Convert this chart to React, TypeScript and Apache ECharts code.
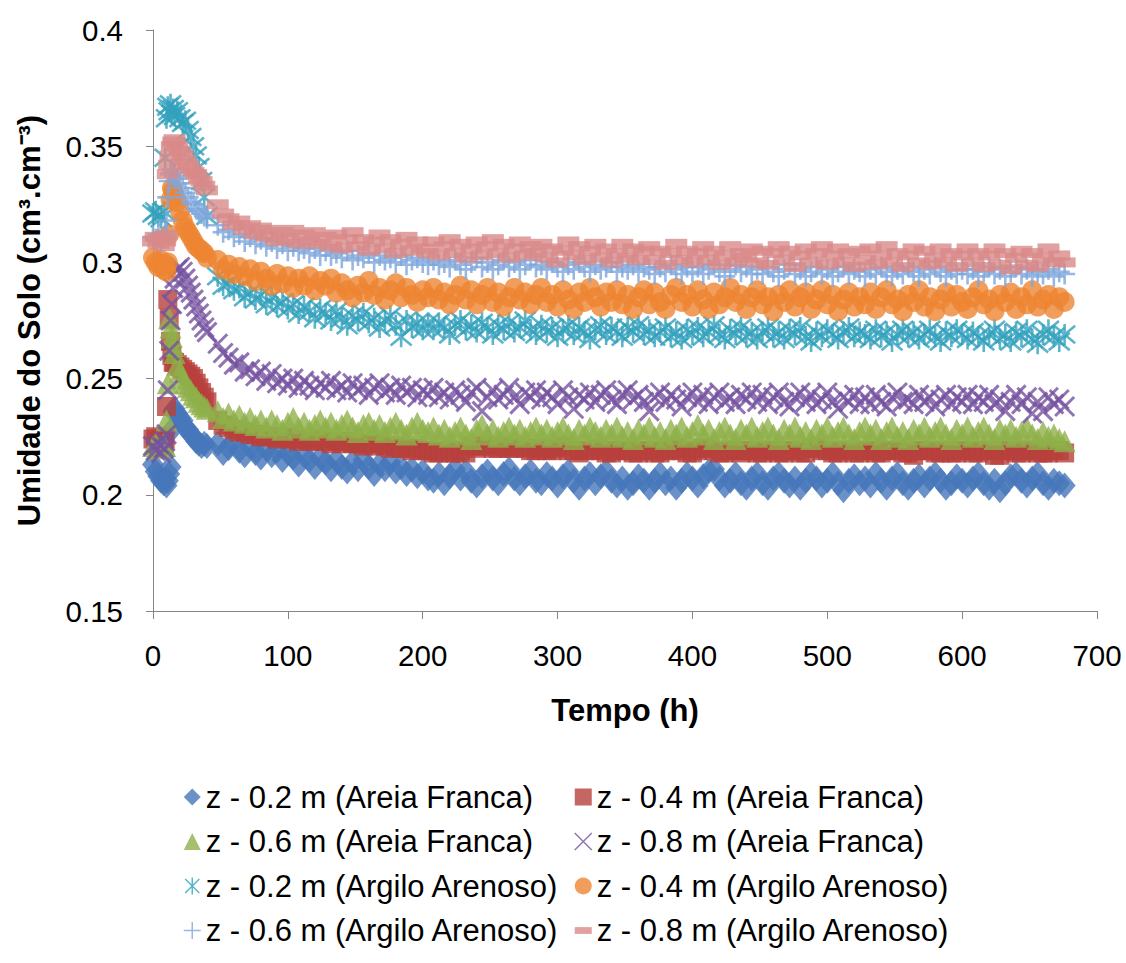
import React, { useEffect, useRef } from "react";
import * as echarts from "echarts";

const FONT = "'Liberation Sans', Arial, sans-serif";

// Tempo (h)
const time = [
  0, 2, 4, 6, 8, 9, 10, 11, 12, 13, 14, 15, 16, 18, 20, 22, 24, 26, 28, 30, 32, 34, 36, 38, 40,
  48, 52, 56, 60, 64, 68, 72, 76, 80, 84, 88, 92, 96, 100, 104, 108, 112, 116, 120, 124,
  128, 132, 136, 140, 144, 148, 152, 156, 160, 164, 168, 172, 176, 180, 184, 188, 192, 196, 200, 204,
  208, 212, 216, 220, 224, 228, 232, 236, 240, 244, 248, 252, 256, 260, 264, 268, 272, 276, 280, 284,
  288, 292, 296, 300, 304, 308, 312, 316, 320, 324, 328, 332, 336, 340, 344, 348, 352, 356, 360, 364,
  368, 372, 376, 380, 384, 388, 392, 396, 400, 404, 408, 412, 416, 420, 424, 428, 432, 436, 440, 444,
  448, 452, 456, 460, 464, 468, 472, 476, 480, 484, 488, 492, 496, 500, 504, 508, 512, 516, 520, 524,
  528, 532, 536, 540, 544, 548, 552, 556, 560, 564, 568, 572, 576, 580, 584, 588, 592, 596, 600, 604,
  608, 612, 616, 620, 624, 628, 632, 636, 640, 644, 648, 652, 656, 660, 664, 668, 672, 676,
];

// z - 0.2 m (Areia Franca)
const af02 = [
  0.213, 0.210, 0.208, 0.206, 0.205, 0.207, 0.204, 0.206, 0.209, 0.212, 0.228, 0.236, 0.237, 0.235, 0.233, 0.232, 0.229, 0.228, 0.226, 0.225, 0.223, 0.222, 0.221, 0.222, 0.221,
  0.222, 0.218, 0.220, 0.223, 0.219, 0.217, 0.221, 0.218, 0.216, 0.220, 0.217, 0.219, 0.215, 0.218, 0.216, 0.213, 0.217, 0.215, 0.212, 0.216,
  0.214, 0.211, 0.215, 0.212, 0.210, 0.214, 0.211, 0.215, 0.212, 0.209, 0.213, 0.211, 0.214, 0.210, 0.212, 0.209, 0.211, 0.208, 0.210, 0.207,
  0.206, 0.209, 0.205, 0.208, 0.211, 0.207, 0.210, 0.206, 0.204, 0.208, 0.210, 0.207, 0.205, 0.209, 0.211, 0.207, 0.205, 0.208, 0.210, 0.206,
  0.205, 0.209, 0.207, 0.204, 0.208, 0.210, 0.206, 0.203, 0.207, 0.209, 0.205, 0.208, 0.210, 0.206, 0.204, 0.207, 0.203, 0.205, 0.208, 0.206,
  0.203, 0.206, 0.209, 0.205, 0.207, 0.203, 0.206, 0.209, 0.207, 0.204, 0.208, 0.210, 0.211, 0.207, 0.204, 0.206, 0.209, 0.205, 0.203, 0.207,
  0.209, 0.205, 0.203, 0.207, 0.209, 0.206, 0.204, 0.207, 0.203, 0.206, 0.209, 0.207, 0.204, 0.206, 0.209, 0.205, 0.202, 0.206, 0.208, 0.205,
  0.207, 0.204, 0.209, 0.206, 0.203, 0.207, 0.209, 0.205, 0.203, 0.206, 0.208, 0.204, 0.207, 0.209, 0.206, 0.203, 0.205, 0.208, 0.206, 0.204,
  0.207, 0.209, 0.205, 0.203, 0.206, 0.202, 0.205, 0.208, 0.209, 0.206, 0.204, 0.207, 0.209, 0.205, 0.203, 0.206, 0.205, 0.204,
];

// z - 0.4 m (Areia Franca)
const af04 = [
  0.224, 0.225, 0.223, 0.224, 0.222, 0.224, 0.238, 0.284, 0.276, 0.266, 0.260, 0.257, 0.257, 0.256, 0.255, 0.254, 0.253, 0.252, 0.251, 0.250, 0.248, 0.246, 0.244, 0.242, 0.240,
  0.232, 0.230, 0.229, 0.228, 0.227, 0.227, 0.226, 0.226, 0.225, 0.225, 0.225, 0.224, 0.225, 0.224, 0.224, 0.223, 0.224, 0.223, 0.223, 0.224,
  0.223, 0.222, 0.223, 0.222, 0.223, 0.222, 0.222, 0.221, 0.222, 0.221, 0.222, 0.221, 0.220, 0.221, 0.220, 0.220, 0.219, 0.220, 0.219, 0.219,
  0.218, 0.218, 0.219, 0.218, 0.218, 0.219, 0.218, 0.221, 0.220, 0.221, 0.221, 0.220, 0.220, 0.221, 0.220, 0.220, 0.221, 0.220, 0.219, 0.219,
  0.220, 0.219, 0.219, 0.220, 0.221, 0.219, 0.219, 0.218, 0.219, 0.219, 0.220, 0.219, 0.218, 0.218, 0.219, 0.219, 0.219, 0.218, 0.218, 0.219,
  0.219, 0.218, 0.218, 0.219, 0.219, 0.220, 0.219, 0.218, 0.218, 0.219, 0.220, 0.220, 0.219, 0.218, 0.218, 0.219, 0.219, 0.218, 0.219, 0.219,
  0.218, 0.218, 0.219, 0.219, 0.218, 0.218, 0.219, 0.219, 0.218, 0.218, 0.220, 0.220, 0.219, 0.219, 0.218, 0.218, 0.219, 0.219, 0.218, 0.218,
  0.219, 0.219, 0.218, 0.218, 0.219, 0.219, 0.219, 0.218, 0.218, 0.217, 0.219, 0.219, 0.219, 0.218, 0.218, 0.219, 0.218, 0.218, 0.219, 0.219,
  0.218, 0.218, 0.219, 0.219, 0.217, 0.217, 0.219, 0.219, 0.218, 0.218, 0.219, 0.219, 0.218, 0.218, 0.218, 0.219, 0.219, 0.218,
];

// z - 0.6 m (Areia Franca)
const af06 = [
  0.221, 0.222, 0.220, 0.221, 0.222, 0.221, 0.232, 0.248, 0.276, 0.272, 0.268, 0.264, 0.261, 0.256, 0.253, 0.250, 0.248, 0.2465, 0.245, 0.243, 0.242, 0.240, 0.239, 0.238, 0.237,
  0.236, 0.233, 0.235, 0.232, 0.234, 0.231, 0.233, 0.230, 0.232, 0.229, 0.232, 0.230, 0.228, 0.231, 0.233, 0.229, 0.231, 0.228, 0.230, 0.232,
  0.229, 0.231, 0.228, 0.230, 0.232, 0.229, 0.227, 0.230, 0.231, 0.228, 0.230, 0.227, 0.229, 0.231, 0.228, 0.226, 0.229, 0.231, 0.228, 0.227,
  0.229, 0.226, 0.228, 0.225, 0.227, 0.229, 0.226, 0.224, 0.228, 0.230, 0.226, 0.228, 0.225, 0.227, 0.229, 0.226, 0.228, 0.225, 0.227, 0.229,
  0.226, 0.228, 0.225, 0.227, 0.229, 0.226, 0.224, 0.228, 0.226, 0.229, 0.227, 0.225, 0.228, 0.226, 0.229, 0.225, 0.227, 0.224, 0.228, 0.226,
  0.229, 0.225, 0.227, 0.224, 0.228, 0.226, 0.229, 0.225, 0.227, 0.230, 0.226, 0.228, 0.224, 0.227, 0.229, 0.226, 0.224, 0.228, 0.226, 0.229,
  0.225, 0.227, 0.229, 0.226, 0.224, 0.228, 0.226, 0.229, 0.225, 0.227, 0.224, 0.228, 0.226, 0.229, 0.225, 0.227, 0.229, 0.226, 0.224, 0.227,
  0.229, 0.226, 0.228, 0.224, 0.227, 0.229, 0.225, 0.227, 0.224, 0.228, 0.226, 0.229, 0.225, 0.227, 0.229, 0.226, 0.224, 0.228, 0.226, 0.229,
  0.225, 0.227, 0.229, 0.226, 0.224, 0.228, 0.226, 0.228, 0.225, 0.227, 0.229, 0.226, 0.224, 0.227, 0.225, 0.226, 0.224, 0.223,
];

// z - 0.8 m (Areia Franca)
const af08 = [
  0.221, 0.219, 0.222, 0.218, 0.220, 0.223, 0.226, 0.245, 0.262, 0.275, 0.282, 0.289, 0.293, 0.297, 0.298, 0.296, 0.293, 0.290, 0.287, 0.284, 0.281, 0.278, 0.275, 0.272, 0.270,
  0.265, 0.261, 0.259, 0.256, 0.257, 0.253, 0.254, 0.251, 0.253, 0.249, 0.252, 0.248, 0.250, 0.247, 0.250, 0.246, 0.249, 0.247, 0.245, 0.248,
  0.246, 0.249, 0.245, 0.247, 0.244, 0.248, 0.245, 0.247, 0.243, 0.246, 0.248, 0.244, 0.246, 0.243, 0.247, 0.244, 0.246, 0.242, 0.245, 0.243,
  0.246, 0.242, 0.244, 0.241, 0.245, 0.243, 0.240, 0.244, 0.246, 0.236, 0.242, 0.245, 0.241, 0.243, 0.246, 0.242, 0.239, 0.244, 0.242, 0.245,
  0.241, 0.244, 0.242, 0.239, 0.245, 0.242, 0.237, 0.243, 0.241, 0.244, 0.240, 0.243, 0.245, 0.241, 0.239, 0.243, 0.245, 0.241, 0.243, 0.240,
  0.236, 0.242, 0.244, 0.240, 0.243, 0.241, 0.238, 0.242, 0.244, 0.240, 0.243, 0.239, 0.242, 0.244, 0.240, 0.242, 0.239, 0.243, 0.241, 0.244,
  0.240, 0.243, 0.239, 0.242, 0.244, 0.240, 0.238, 0.242, 0.244, 0.240, 0.243, 0.239, 0.241, 0.244, 0.240, 0.237, 0.242, 0.240, 0.243, 0.239,
  0.242, 0.239, 0.243, 0.240, 0.238, 0.242, 0.244, 0.240, 0.241, 0.239, 0.243, 0.240, 0.242, 0.238, 0.241, 0.243, 0.239, 0.242, 0.240, 0.243,
  0.239, 0.242, 0.240, 0.243, 0.239, 0.241, 0.236, 0.240, 0.243, 0.239, 0.242, 0.235, 0.240, 0.236, 0.242, 0.239, 0.241, 0.238,
];

// z - 0.2 m (Argilo Arenoso)
const aa02 = [
  0.321, 0.322, 0.320, 0.319, 0.322, 0.345, 0.362, 0.367, 0.365, 0.368, 0.364, 0.366, 0.363, 0.365, 0.362, 0.360, 0.361, 0.357, 0.354, 0.350, 0.346, 0.341, 0.335, 0.328, 0.320,
  0.294, 0.290, 0.291, 0.288, 0.289, 0.285, 0.287, 0.284, 0.286, 0.282, 0.285, 0.281, 0.283, 0.280, 0.282, 0.278, 0.281, 0.279, 0.276, 0.280,
  0.278, 0.275, 0.279, 0.276, 0.273, 0.277, 0.275, 0.278, 0.274, 0.276, 0.272, 0.275, 0.277, 0.273, 0.268, 0.275, 0.272, 0.274, 0.271, 0.274,
  0.271, 0.274, 0.272, 0.269, 0.273, 0.275, 0.271, 0.273, 0.270, 0.274, 0.272, 0.269, 0.273, 0.271, 0.274, 0.270, 0.272, 0.275, 0.271, 0.269,
  0.273, 0.270, 0.272, 0.268, 0.271, 0.273, 0.269, 0.272, 0.270, 0.267, 0.271, 0.273, 0.269, 0.272, 0.270, 0.268, 0.272, 0.270, 0.273, 0.269,
  0.271, 0.268, 0.270, 0.272, 0.268, 0.270, 0.267, 0.271, 0.269, 0.272, 0.268, 0.270, 0.273, 0.269, 0.267, 0.271, 0.269, 0.272, 0.268, 0.270,
  0.267, 0.270, 0.272, 0.268, 0.270, 0.267, 0.271, 0.269, 0.272, 0.268, 0.266, 0.270, 0.268, 0.271, 0.269, 0.267, 0.270, 0.272, 0.268, 0.270,
  0.269, 0.267, 0.271, 0.268, 0.270, 0.266, 0.269, 0.271, 0.268, 0.270, 0.267, 0.269, 0.271, 0.268, 0.266, 0.270, 0.268, 0.271, 0.269, 0.267,
  0.270, 0.268, 0.266, 0.269, 0.271, 0.267, 0.269, 0.266, 0.270, 0.268, 0.271, 0.267, 0.265, 0.269, 0.271, 0.268, 0.266, 0.269,
];

// z - 0.4 m (Argilo Arenoso)
const aa04 = [
  0.302, 0.300, 0.298, 0.301, 0.297, 0.299, 0.296, 0.300, 0.312, 0.327, 0.332, 0.331, 0.329, 0.326, 0.322, 0.318, 0.315, 0.313, 0.311, 0.309, 0.307, 0.306, 0.305, 0.304, 0.302,
  0.301, 0.297, 0.299, 0.295, 0.298, 0.294, 0.297, 0.292, 0.296, 0.293, 0.290, 0.295, 0.291, 0.294, 0.289, 0.293, 0.290, 0.294, 0.288, 0.292,
  0.290, 0.293, 0.287, 0.291, 0.288, 0.285, 0.290, 0.287, 0.292, 0.286, 0.289, 0.284, 0.288, 0.291, 0.285, 0.289, 0.286, 0.283, 0.288, 0.285,
  0.289, 0.284, 0.287, 0.282, 0.286, 0.290, 0.284, 0.288, 0.282, 0.286, 0.289, 0.283, 0.287, 0.281, 0.285, 0.289, 0.284, 0.287, 0.282, 0.286,
  0.289, 0.283, 0.286, 0.281, 0.288, 0.284, 0.280, 0.287, 0.283, 0.289, 0.285, 0.281, 0.287, 0.283, 0.288, 0.282, 0.286, 0.280, 0.285, 0.288,
  0.282, 0.287, 0.283, 0.280, 0.286, 0.289, 0.283, 0.286, 0.281, 0.288, 0.284, 0.280, 0.287, 0.282, 0.285, 0.289, 0.283, 0.286, 0.280, 0.285,
  0.288, 0.282, 0.285, 0.279, 0.286, 0.283, 0.288, 0.281, 0.285, 0.287, 0.280, 0.284, 0.288, 0.282, 0.286, 0.279, 0.284, 0.287, 0.281, 0.285,
  0.282, 0.287, 0.280, 0.285, 0.288, 0.282, 0.284, 0.279, 0.286, 0.283, 0.288, 0.281, 0.285, 0.279, 0.284, 0.287, 0.281, 0.286, 0.283, 0.280,
  0.285, 0.288, 0.282, 0.284, 0.279, 0.286, 0.283, 0.287, 0.280, 0.285, 0.282, 0.288, 0.281, 0.284, 0.286, 0.280, 0.285, 0.283,
];

// z - 0.6 m (Argilo Arenoso)
const aa06 = [
  0.311, 0.310, 0.312, 0.309, 0.311, 0.313, 0.318, 0.328, 0.335, 0.338, 0.340, 0.339, 0.337, 0.336, 0.334, 0.332, 0.330, 0.328, 0.326, 0.325, 0.323, 0.322, 0.321, 0.320, 0.319,
  0.316, 0.313, 0.314, 0.311, 0.312, 0.309, 0.311, 0.308, 0.310, 0.307, 0.309, 0.306, 0.308, 0.305, 0.307, 0.305, 0.306, 0.304, 0.306, 0.303,
  0.305, 0.303, 0.304, 0.302, 0.305, 0.301, 0.303, 0.302, 0.304, 0.300, 0.303, 0.301, 0.302, 0.300, 0.303, 0.299, 0.301, 0.302, 0.300, 0.299,
  0.301, 0.299, 0.300, 0.298, 0.301, 0.299, 0.297, 0.300, 0.302, 0.298, 0.300, 0.297, 0.299, 0.301, 0.298, 0.300, 0.297, 0.299, 0.301, 0.298,
  0.299, 0.297, 0.300, 0.298, 0.296, 0.299, 0.297, 0.300, 0.298, 0.296, 0.299, 0.297, 0.298, 0.300, 0.296, 0.298, 0.297, 0.299, 0.296, 0.298,
  0.297, 0.295, 0.298, 0.296, 0.299, 0.297, 0.295, 0.298, 0.296, 0.298, 0.295, 0.297, 0.299, 0.296, 0.294, 0.297, 0.299, 0.296, 0.298, 0.295,
  0.297, 0.295, 0.298, 0.296, 0.294, 0.297, 0.299, 0.295, 0.297, 0.294, 0.296, 0.298, 0.295, 0.297, 0.294, 0.296, 0.298, 0.295, 0.297, 0.296,
  0.294, 0.297, 0.295, 0.298, 0.296, 0.294, 0.297, 0.295, 0.298, 0.296, 0.294, 0.297, 0.295, 0.298, 0.296, 0.294, 0.297, 0.295, 0.297, 0.295,
  0.297, 0.294, 0.296, 0.298, 0.295, 0.297, 0.294, 0.296, 0.298, 0.295, 0.297, 0.294, 0.296, 0.295, 0.297, 0.294, 0.296, 0.295,
];

// z - 0.8 m (Argilo Arenoso)
const aa08 = [
  0.309, 0.311, 0.308, 0.310, 0.307, 0.309, 0.312, 0.338, 0.342, 0.346, 0.350, 0.352, 0.353, 0.350, 0.348, 0.346, 0.344, 0.342, 0.340, 0.339, 0.338, 0.336, 0.335, 0.333, 0.331,
  0.325, 0.321, 0.319, 0.316, 0.318, 0.314, 0.316, 0.312, 0.315, 0.311, 0.314, 0.309, 0.313, 0.310, 0.314, 0.308, 0.312, 0.309, 0.313, 0.308,
  0.311, 0.307, 0.312, 0.306, 0.310, 0.313, 0.307, 0.310, 0.305, 0.309, 0.312, 0.306, 0.310, 0.304, 0.308, 0.311, 0.305, 0.309, 0.306, 0.304,
  0.309, 0.303, 0.307, 0.310, 0.304, 0.308, 0.302, 0.306, 0.309, 0.303, 0.307, 0.310, 0.304, 0.308, 0.302, 0.306, 0.309, 0.303, 0.307, 0.304,
  0.308, 0.302, 0.306, 0.300, 0.305, 0.309, 0.303, 0.307, 0.301, 0.305, 0.308, 0.302, 0.306, 0.300, 0.304, 0.308, 0.302, 0.306, 0.301, 0.305,
  0.307, 0.301, 0.305, 0.299, 0.304, 0.308, 0.301, 0.305, 0.300, 0.304, 0.307, 0.301, 0.305, 0.299, 0.303, 0.307, 0.300, 0.304, 0.302, 0.306,
  0.300, 0.305, 0.299, 0.304, 0.307, 0.301, 0.305, 0.298, 0.303, 0.306, 0.300, 0.304, 0.307, 0.299, 0.303, 0.306, 0.300, 0.304, 0.298, 0.305,
  0.301, 0.306, 0.299, 0.303, 0.307, 0.300, 0.304, 0.298, 0.303, 0.306, 0.300, 0.305, 0.299, 0.302, 0.306, 0.300, 0.304, 0.298, 0.303, 0.306,
  0.300, 0.304, 0.298, 0.303, 0.306, 0.299, 0.304, 0.297, 0.302, 0.305, 0.299, 0.304, 0.298, 0.302, 0.306, 0.300, 0.303, 0.300,
];

const seriesNames = [
  "z - 0.2 m (Areia Franca)",
  "z - 0.4 m (Areia Franca)",
  "z - 0.6 m (Areia Franca)",
  "z - 0.8 m (Areia Franca)",
  "z - 0.2 m (Argilo Arenoso)",
  "z - 0.4 m (Argilo Arenoso)",
  "z - 0.6 m (Argilo Arenoso)",
  "z - 0.8 m (Argilo Arenoso)",
];

const seriesValues = [af02, af04, af06, af08, aa02, aa04, aa06, aa08];

const colors = [
  "#4677BA",
  "#B8403C",
  "#8EB04A",
  "#7552A0",
  "#33A1BD",
  "#EE8432",
  "#7EA6DC",
  "#D88A88",
];

const X_PATH = "path://M0,0L10,10M10,0L0,10";
const AST_PATH = "path://M0,0L10,10M10,0L0,10M5,-1L5,11";
const PLUS_PATH = "path://M5,0L5,10M0,5L10,5";
const DASH_PATH = "path://M0,0L10,0L10,4L0,4Z";

const markers: any[] = [
  { symbol: "diamond", size: [22, 26], stroke: false },
  { symbol: "rect", size: 19, stroke: false },
  { symbol: "triangle", size: 22, stroke: false },
  { symbol: X_PATH, size: 19, stroke: true, width: 3 },
  { symbol: AST_PATH, size: 21, stroke: true, width: 2.6 },
  { symbol: "circle", size: 20, stroke: false },
  { symbol: PLUS_PATH, size: 21, stroke: true, width: 2.6 },
  { symbol: "rect", size: [22, 10], stroke: false },
];

export default function App() {
  const ref = useRef<HTMLDivElement>(null);

  useEffect(() => {
    if (!ref.current) return;
    const chart = echarts.init(ref.current, undefined, { renderer: "svg" });

    const series = seriesValues.map((vals, i) => ({
      name: seriesNames[i],
      type: "scatter",
      data: time.slice(0, vals.length).map((t, k) => [t, vals[k]]),
      symbol: markers[i].symbol,
      symbolSize: markers[i].size,
      itemStyle: markers[i].stroke
        ? { color: colors[i], borderColor: colors[i], borderWidth: markers[i].width }
        : { color: colors[i] },
      emphasis: { disabled: true },
    }));

    const legendText = {
      fontSize: 31,
      fontFamily: FONT,
      color: "#000",
      lineHeight: 32,
    };

    const legendItem = (i: number) =>
      i === 7
        ? { name: seriesNames[i], icon: DASH_PATH }
        : markers[i].stroke
        ? { name: seriesNames[i], itemStyle: { borderWidth: 1.5 } }
        : { name: seriesNames[i] };

    const legendBase = {
      orient: "vertical",
      top: 781,
      padding: 0,
      itemWidth: 17,
      itemHeight: 17,
      itemGap: 12.5,
      textStyle: legendText,
      selectedMode: false,
    };

    chart.setOption({
      animation: false,
      grid: { left: 153, right: 29, top: 30, bottom: 352 },
      xAxis: {
        type: "value",
        min: 0,
        max: 700,
        interval: 100,
        splitLine: { show: false },
        axisLine: { show: true, lineStyle: { color: "#868686", width: 1 } },
        axisTick: { show: true, length: 8, lineStyle: { color: "#868686" } },
        axisLabel: { fontSize: 29.5, color: "#000", margin: 29, fontFamily: FONT },
        name: "Tempo (h)",
        nameLocation: "middle",
        nameGap: 84,
        nameTextStyle: { fontSize: 31, fontWeight: "bold", color: "#000", fontFamily: FONT },
      },
      yAxis: {
        type: "value",
        min: 0.15,
        max: 0.4,
        interval: 0.05,
        splitLine: { show: false },
        axisLine: { show: true, lineStyle: { color: "#868686", width: 1 } },
        axisTick: { show: true, length: 7, lineStyle: { color: "#868686" } },
        axisLabel: { fontSize: 29.5, color: "#000", margin: 30, fontFamily: FONT },
        name: "Umidade do Solo (cm³.cm⁻³)",
        nameLocation: "middle",
        nameGap: 108,
        nameTextStyle: { fontSize: 31, fontWeight: "bold", color: "#000", fontFamily: FONT },
      },
      legend: [
        { ...legendBase, data: [0, 2, 4, 6].map(legendItem), left: 183 },
        { ...legendBase, data: [1, 3, 5, 7].map(legendItem), left: 574 },
      ],
      series,
    });

    return () => chart.dispose();
  }, []);

  return (
    <div
      ref={ref}
      style={{ position: "fixed", left: 0, top: 0, width: 1126, height: 963, background: "#fff" }}
    />
  );
}
